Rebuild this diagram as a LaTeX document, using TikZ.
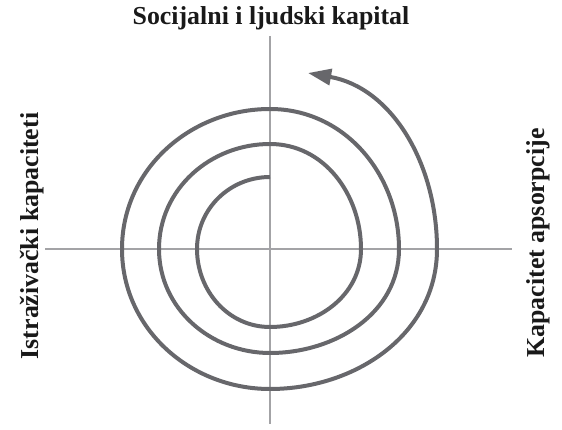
\documentclass[tikz,border=0pt]{standalone}
\usepackage{fontspec}
\setmainfont{Liberation Serif}
\usetikzlibrary{arrows.meta}
\definecolor{spiralgray}{HTML}{67676B}
\definecolor{axisgray}{HTML}{A3A3A6}
\begin{document}
\begin{tikzpicture}[x=0.25mm, y=0.25mm,
            axis/.style={draw=axisgray, line width=0.58mm},
            spiral/.style={draw=spiralgray, line width=1mm},
            lbl/.style={font=\fontsize{18.4}{20}\selectfont\bfseries, text=black!90, inner sep=0pt}
        ]
        \useasboundingbox (0,0) rectangle (562,429);

        % --- axes ---
        \coordinate (N) at (270,393);
        \coordinate (S) at (270,5);
        \coordinate (W) at (45,180);
        \coordinate (E) at (512,180);
        \draw[axis] (N)--(S);
        \draw[axis] (W)--(E);

        % --- spiral points ---
        \coordinate (s0) at (270,252);
        \coordinate (l1) at (197,180);
        \coordinate (b1) at (270,102);
        \coordinate (r1) at (361,180);
        \coordinate (t1) at (270,285);
        \coordinate (l2) at (159,180);
        \coordinate (b2) at (270,76);
        \coordinate (r2) at (399,180);
        \coordinate (t2) at (270,320);
        \coordinate (l3) at (122,180);
        \coordinate (b3) at (270,40);
        \coordinate (r3) at (437,180);
        \coordinate (tip) at (308,356);

        \draw[spiral, -{Triangle[length=5.8mm, width=4mm]}]
            (s0) to[out=180, in=90] (l1) to[out=-90, in=180] (b1)
            to[out=0, in=-90] (r1) to[out=90, in=0] (t1)
            to[out=180, in=90] (l2) to[out=-90, in=180] (b2)
            to[out=0, in=-90] (r2) to[out=90, in=0] (t2)
            to[out=180, in=90] (l3) to[out=-90, in=180] (b3)
            to[out=0, in=-90] (r3) to[out=90, in=-10] (tip);

        % --- labels ---
        \node[lbl] (social) at (271,411) {Socijalni i ljudski kapital};
        \node[lbl, rotate=90] (research) at (32,193) {Istraživački kapaciteti};
        \node[lbl, rotate=90] (absorb) at (538,186) {Kapacitet apsorpcije};
\end{tikzpicture}
\end{document}
